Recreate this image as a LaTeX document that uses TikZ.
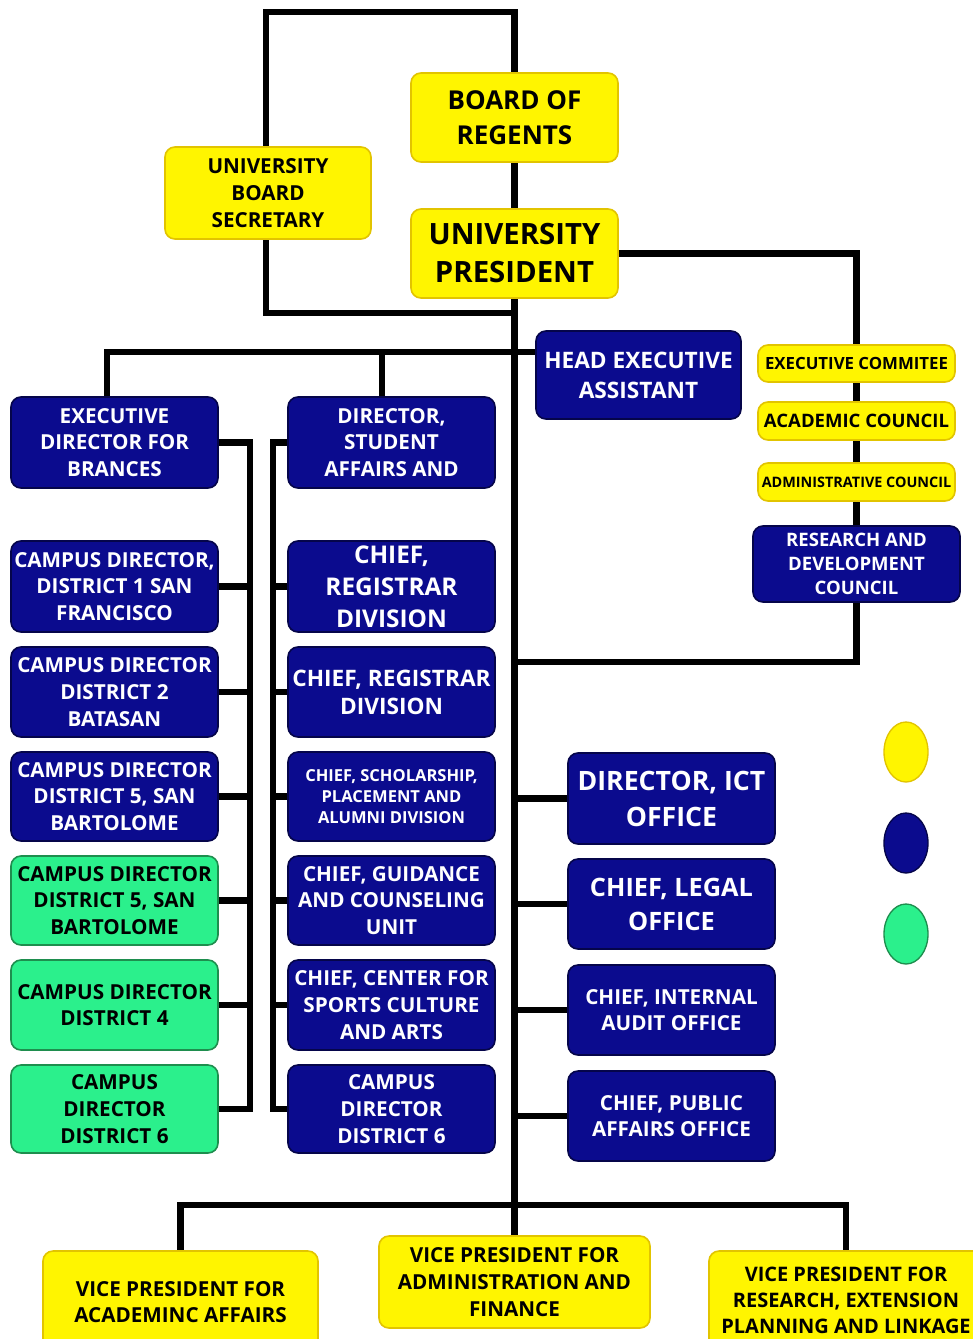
\documentclass[tikz,border=0pt]{standalone}
\usepackage{fontspec}
\setmainfont{Open Sans}
\usetikzlibrary{calc,shapes.geometric}
\definecolor{yel}{HTML}{FFF500}
\definecolor{yelb}{HTML}{E2C400}
\definecolor{navy}{HTML}{0B0B8E}
\definecolor{navyb}{HTML}{05054A}
\definecolor{grn}{HTML}{2BF08C}
\definecolor{grnb}{HTML}{1E8E4E}
\pgfdeclarelayer{bg}
\pgfsetlayers{bg,main}
\tikzset{
  box/.style={rounded corners=7.5pt, inner sep=0pt, align=center, line width=1.2pt},
  ybox/.style={box, fill=yel, draw=yelb, text=black},
  bbox/.style={box, fill=navy, draw=navyb, text=white},
  gbox/.style={box, fill=grn, draw=grnb, text=black},
  fs/.style 2 args={font=\fontsize{#1}{#2}\selectfont\bfseries},
  conn/.style={line width=4.8pt, black, line cap=rect},
  legend/.style={line width=1pt, ellipse, minimum width=33pt, minimum height=45pt, inner sep=0pt}
}
\newcommand\bx[7]{%
  \node[#2, minimum width={(#5-#3)*0.75pt}, minimum height={(#6-#4)*0.75pt}]
    (#1) at ({(#3+#5)/2},{(#4+#6)/2}) {#7};}
\begin{document}
\begin{tikzpicture}[x=0.75pt,y=-0.75pt]
\useasboundingbox (0,0) rectangle (973,1339);
% top
\bx{bor}{ybox,fs={19.5}{26}}{411}{73}{618}{162}{BOARD OF\\REGENTS}
\bx{ubs}{ybox,fs={15.5}{20}}{165}{147}{371}{239}{UNIVERSITY\\BOARD\\SECRETARY}
\bx{up}{ybox,fs={22}{28.5}}{411}{209}{618}{298}{UNIVERSITY\\PRESIDENT}
% right councils
\bx{hea}{bbox,fs={17}{22.5}}{536}{331}{741}{419}{HEAD EXECUTIVE\\ASSISTANT}
\bx{ec}{ybox,fs={12.6}{15}}{758}{345}{955}{382}{EXECUTIVE COMMITEE}
\bx{ac}{ybox,fs={13.9}{16}}{758}{402}{955}{440}{ACADEMIC COUNCIL}
\bx{adc}{ybox,fs={10.8}{13}}{758}{463}{955}{501}{ADMINISTRATIVE COUNCIL}
\bx{rdc}{bbox,fs={13.9}{18}}{753}{526}{960}{602}{RESEARCH AND\\DEVELOPMENT\\COUNCIL}
% left column
\bx{edb}{bbox,fs={15.5}{20}}{11}{397}{218}{488}{EXECUTIVE\\DIRECTOR FOR\\BRANCES}
\bx{cd1}{bbox,fs={15.5}{20}}{11}{541}{218}{632}{CAMPUS DIRECTOR,\\DISTRICT 1 SAN\\FRANCISCO}
\bx{cd2}{bbox,fs={15.5}{20}}{11}{647}{218}{737}{CAMPUS DIRECTOR\\DISTRICT 2\\BATASAN}
\bx{cd5}{bbox,fs={15.5}{20}}{11}{752}{218}{841}{CAMPUS DIRECTOR\\DISTRICT 5, SAN\\BARTOLOME}
\bx{g5}{gbox,fs={15.5}{20}}{11}{856}{218}{945}{CAMPUS DIRECTOR\\DISTRICT 5, SAN\\BARTOLOME}
\bx{g4}{gbox,fs={15.5}{20}}{11}{960}{218}{1050}{CAMPUS DIRECTOR\\DISTRICT 4}
\bx{g6}{gbox,fs={15.5}{20}}{11}{1065}{218}{1153}{CAMPUS\\DIRECTOR\\DISTRICT 6}
% middle column
\bx{dsa}{bbox,fs={15.5}{20}}{288}{397}{495}{488}{DIRECTOR,\\STUDENT\\AFFAIRS AND}
\bx{crd1}{bbox,fs={18.3}{24}}{288}{541}{495}{632}{CHIEF,\\REGISTRAR\\DIVISION}
\bx{crd2}{bbox,fs={17}{21}}{288}{647}{495}{737}{CHIEF, REGISTRAR\\DIVISION}
\bx{csp}{bbox,fs={12.4}{15.75}}{288}{752}{495}{841}{CHIEF, SCHOLARSHIP,\\PLACEMENT AND\\ALUMNI DIVISION}
\bx{cgc}{bbox,fs={15.5}{20}}{288}{856}{495}{945}{CHIEF, GUIDANCE\\AND COUNSELING\\UNIT}
\bx{ccs}{bbox,fs={15.5}{20}}{288}{960}{495}{1050}{CHIEF, CENTER FOR\\SPORTS CULTURE\\AND ARTS}
\bx{cd6}{bbox,fs={15.5}{20}}{288}{1065}{495}{1153}{CAMPUS\\DIRECTOR\\DISTRICT 6}
% right offices
\bx{ict}{bbox,fs={20}{27}}{568}{753}{775}{844}{DIRECTOR, ICT\\OFFICE}
\bx{legal}{bbox,fs={19}{25.5}}{568}{859}{775}{949}{CHIEF, LEGAL\\OFFICE}
\bx{audit}{bbox,fs={15.5}{20}}{568}{965}{775}{1055}{CHIEF, INTERNAL\\AUDIT OFFICE}
\bx{pub}{bbox,fs={15.5}{20}}{568}{1071}{775}{1161}{CHIEF, PUBLIC\\AFFAIRS OFFICE}
% vice presidents
\bx{vpa}{ybox,fs={15.5}{20}}{43}{1251}{318}{1353}{VICE PRESIDENT FOR\\ACADEMINC AFFAIRS}
\bx{vpaf}{ybox,fs={15.5}{20}}{379}{1236}{650}{1328}{VICE PRESIDENT FOR\\ADMINISTRATION AND\\FINANCE}
\bx{vpr}{ybox,fs={15}{19.5}}{709}{1251}{983}{1349}{VICE PRESIDENT FOR\\RESEARCH, EXTENSION\\PLANNING AND LINKAGE}
% legend
\node[legend, fill=yel, draw=yelb] (ly) at (906,752) {};
\node[legend, fill=navy, draw=navyb] (lb) at (906,843) {};
\node[legend, fill=grn, draw=grnb] (lg) at (906,934) {};
% connectors
\coordinate (tl) at (266,12);
\coordinate (j1) at (514.5,313);
\coordinate (j2) at (514.5,662);
\coordinate (j3) at (514.5,352);
\coordinate (j4) at (382,352);
\coordinate (j5) at (107,352);
\coordinate (bus) at (514.5,1205);
\coordinate (lvx) at (250,0);
\coordinate (mvx) at (273,0);
\begin{pgfonlayer}{bg}
\fill[white] (0,0) rectangle (973,1339);
\draw[conn] (ubs.north -| tl) -- (tl) -| (bor.north);
\draw[conn] (ubs.south -| tl) |- (j1);
\draw[conn] (bor.south) -- (up.north);
\draw[conn] (up.south) -- (bus);
\draw[conn] (up.east) -| (ec.north);
\draw[conn] (ec.south) -- (ac.north);
\draw[conn] (ac.south) -- (adc.north);
\draw[conn] (adc.south) -- (rdc.north);
\draw[conn] (rdc.south) |- (j2);
\draw[conn] (j5 |- edb.north) -- (j5) -- (j3) -- (hea.west |- j3);
\draw[conn] (j4) -- (j4 |- dsa.north);
\draw[conn] (edb.east) -| (g6.east -| lvx);
\foreach \b in {cd1,cd2,cd5,g5,g4,g6} \draw[conn] (\b.east) -- (\b.east -| lvx);
\draw[conn] (dsa.west) -| (cd6.west -| mvx);
\foreach \b in {crd1,crd2,csp,cgc,ccs,cd6} \draw[conn] (\b.west) -- (\b.west -| mvx);
\foreach \b in {ict,legal,audit,pub} \draw[conn] (\b.west) -- (\b.west -| bus);
\draw[conn] (vpa.north) |- (bus) -| (vpr.north);
\draw[conn] (bus) -- (bus |- vpaf.north);
\end{pgfonlayer}
\end{tikzpicture}
\end{document}
